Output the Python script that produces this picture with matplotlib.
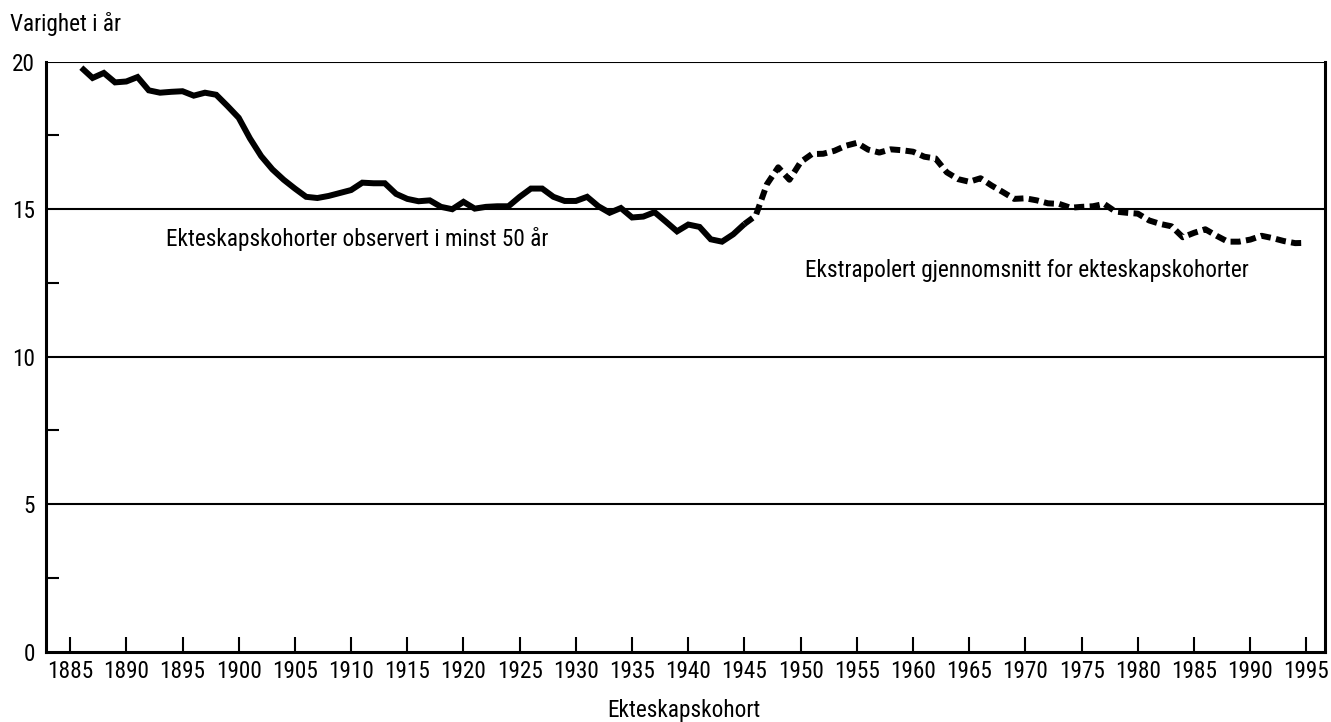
import glob
import os
import matplotlib
matplotlib.use("Agg")
import matplotlib.pyplot as plt
from matplotlib.ticker import MultipleLocator
from matplotlib import font_manager

# ---- data ----
years_observed = list(range(1886, 1946))
duration_observed = [
    19.80, 19.45, 19.62, 19.30, 19.33, 19.48, 19.03, 18.95, 18.98, 19.00,
    18.85, 18.95, 18.88, 18.50, 18.10, 17.40, 16.80, 16.35, 16.00, 15.70,
    15.42, 15.38, 15.45, 15.55, 15.65, 15.90, 15.88, 15.88, 15.52, 15.35,
    15.27, 15.30, 15.08, 15.00, 15.25, 15.02, 15.08, 15.10, 15.10, 15.42,
    15.70, 15.70, 15.42, 15.28, 15.28, 15.42, 15.10, 14.88, 15.04, 14.72,
    14.75, 14.90, 14.58, 14.25, 14.48, 14.40, 13.98, 13.90, 14.15, 14.50,
]
years_extrapolated = list(range(1945, 1996))
duration_extrapolated = [
    14.50, 14.78, 15.85, 16.42, 16.00, 16.60, 16.87, 16.88, 16.98, 17.15,
    17.25, 17.02, 16.92, 17.03, 17.00, 16.95, 16.78, 16.72, 16.25, 16.02,
    15.93, 16.05, 15.80, 15.58, 15.35, 15.37, 15.30, 15.20, 15.18, 15.05,
    15.08, 15.10, 15.18, 14.92, 14.88, 14.85, 14.62, 14.50, 14.42, 14.05,
    14.20, 14.32, 14.10, 13.90, 13.90, 13.97, 14.10, 14.02, 13.92, 13.85,
    13.86,
]
x_ticks = list(range(1885, 1996, 5))
y_ticks = [0, 5, 10, 15, 20]
y_label = "Varighet i år"
x_label = "Ekteskapskohort"
label_observed = "Ekteskapskohorter observert i minst 50 år"
label_extrapolated = "Ekstrapolert gjennomsnitt for ekteskapskohorter"

# ---- font: prefer a narrow sans (Helvetica Narrow look) ----
files = set(f.fname for f in font_manager.fontManager.ttflist)
for pat in ("/usr/share/fonts/**/*.ttf", "/usr/share/fonts/**/*.otf",
            "/usr/local/share/fonts/**/*.ttf", os.path.expanduser("~/.fonts/**/*.ttf")):
    files.update(glob.glob(pat, recursive=True))
prefs = ["LiberationSansNarrow-Regular", "ArialNarrow", "RobotoCondensed-Regular",
         "OpenSansCondensed-Regular", "OpenSans_Condensed-Regular",
         "NotoSans-Condensed", "NotoSansCondensed-Regular", "DejaVuSansCondensed."]
chosen = None
for p in prefs:
    for f in sorted(files):
        if p.lower() in os.path.basename(f).lower():
            chosen = f
            break
    if chosen:
        break
if chosen:
    font_manager.fontManager.addfont(chosen)
    fam_name = font_manager.FontProperties(fname=chosen).get_name()
    plt.rcParams["font.family"] = [fam_name, "DejaVu Sans"]
    if "condensed" in os.path.basename(chosen).lower():
        plt.rcParams["font.stretch"] = "condensed"
else:
    plt.rcParams["font.family"] = ["Liberation Sans", "DejaVu Sans"]

fs = 17

fig = plt.figure(figsize=(13.31, 7.22), dpi=100)
ax = fig.add_axes([0.0346, 0.0974, 0.9609, 0.8171])

for y in y_ticks[1:]:
    ax.axhline(y, color="black", lw=1.5, zorder=1)

ax.plot(years_observed, duration_observed, color="black", lw=4.3,
        solid_joinstyle="miter", solid_capstyle="butt", zorder=3)
ax.plot(years_extrapolated, duration_extrapolated, color="black", lw=4.3,
        dashes=(1.7, 0.9), dash_capstyle="butt", zorder=3)

ax.set_xlim(1882.86, 1996.65)
ax.set_ylim(0, 20)
ax.set_xticks(x_ticks)
ax.set_yticks(y_ticks)
ax.yaxis.set_minor_locator(MultipleLocator(2.5))
ax.tick_params(axis="x", direction="in", length=11, width=1.5, pad=6)
ax.tick_params(axis="y", which="major", direction="in", length=0, pad=8)
ax.tick_params(axis="y", which="minor", direction="in", length=9, width=1.5)

for s in ["left", "bottom", "right"]:
    ax.spines[s].set_linewidth(2.2)
ax.spines["top"].set_visible(False)

t1 = ax.text(1893.5, 14.0, label_observed, fontsize=fs, va="center", ha="left")
t2 = ax.text(1950.4, 12.93, label_extrapolated, fontsize=fs, va="center", ha="left")
t3 = fig.text(10 / 1331, 1 - 24 / 722, y_label, fontsize=fs, va="center", ha="left")
t4 = fig.text(684 / 1331, 1 - 710 / 722, x_label, fontsize=fs, va="center", ha="center")

# scale all text so the long annotation matches the reference width (~382 px)
fig.canvas.draw()
w = t1.get_window_extent().width
size = fs * 382.0 / w
size = min(size, 18.5)
for t in (t1, t2, t3, t4):
    t.set_fontsize(size)
ax.tick_params(axis="both", labelsize=size)

fig.savefig("out.png", dpi=100)
